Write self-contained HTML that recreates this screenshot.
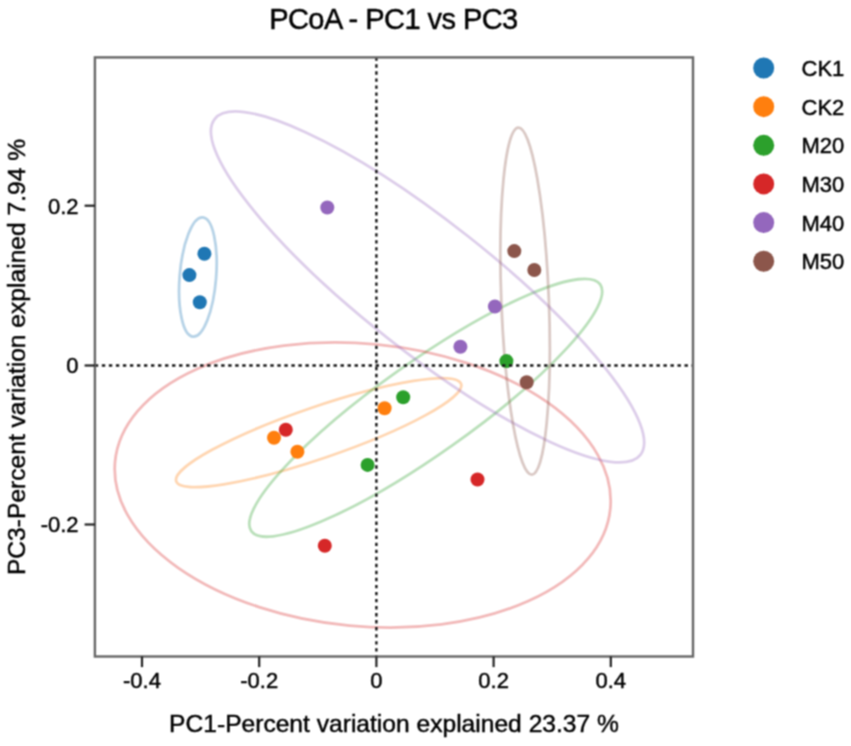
<!DOCTYPE html>
<html><head><meta charset="utf-8"><style>
html,body{margin:0;padding:0;background:#fff;width:851px;height:746px;overflow:hidden}
svg{display:block}
text{font-family:"Liberation Sans",sans-serif;fill:#000;stroke:#000;stroke-width:0.45px}
.tk{font-size:22px}
.ti{font-size:29px;letter-spacing:-0.55px}
.ax{font-size:24.6px}
.lg{font-size:22px}
</style></head><body>
<svg width="851" height="746" viewBox="0 0 851 746">
<defs><filter id="soft" x="0" y="0" width="851" height="746" filterUnits="userSpaceOnUse" color-interpolation-filters="sRGB"><feConvolveMatrix order="3" kernelMatrix="1 2 1 2 4 2 1 2 1" divisor="16" edgeMode="duplicate"/></filter></defs>
<g filter="url(#soft)"><rect x="0" y="0" width="851" height="746" fill="#fff"/>
<ellipse cx="197.87" cy="277.03" rx="59.80" ry="18.24" transform="rotate(94.636 197.87 277.03)" fill="none" stroke="#1f77b4" stroke-opacity="0.32" stroke-width="2.8"/>
<ellipse cx="318.67" cy="432.60" rx="150.53" ry="25.75" transform="rotate(161.109 318.67 432.60)" fill="none" stroke="#ff7f0e" stroke-opacity="0.32" stroke-width="2.8"/>
<ellipse cx="425.73" cy="407.77" rx="213.65" ry="46.04" transform="rotate(144.734 425.73 407.77)" fill="none" stroke="#2ca02c" stroke-opacity="0.32" stroke-width="2.8"/>
<ellipse cx="362.70" cy="485.00" rx="248.74" ry="141.24" transform="rotate(-174.576 362.70 485.00)" fill="none" stroke="#d62728" stroke-opacity="0.32" stroke-width="2.8"/>
<ellipse cx="427.53" cy="286.93" rx="271.11" ry="64.88" transform="rotate(-141.736 427.53 286.93)" fill="none" stroke="#9467bd" stroke-opacity="0.32" stroke-width="2.8"/>
<ellipse cx="525.10" cy="301.10" rx="173.59" ry="23.79" transform="rotate(87.771 525.10 301.10)" fill="none" stroke="#8c564b" stroke-opacity="0.32" stroke-width="2.8"/>
<circle cx="204.4" cy="253.7" r="7.0" fill="#1f77b4"/>
<circle cx="189.4" cy="275.1" r="7.0" fill="#1f77b4"/>
<circle cx="199.8" cy="302.3" r="7.0" fill="#1f77b4"/>
<circle cx="274.0" cy="437.8" r="7.0" fill="#ff7f0e"/>
<circle cx="297.4" cy="451.8" r="7.0" fill="#ff7f0e"/>
<circle cx="384.6" cy="408.2" r="7.0" fill="#ff7f0e"/>
<circle cx="367.6" cy="464.9" r="7.0" fill="#2ca02c"/>
<circle cx="403.2" cy="397.3" r="7.0" fill="#2ca02c"/>
<circle cx="506.4" cy="361.1" r="7.0" fill="#2ca02c"/>
<circle cx="285.8" cy="429.7" r="7.0" fill="#d62728"/>
<circle cx="477.5" cy="479.5" r="7.0" fill="#d62728"/>
<circle cx="324.8" cy="545.8" r="7.0" fill="#d62728"/>
<circle cx="327.3" cy="207.5" r="7.0" fill="#9467bd"/>
<circle cx="460.4" cy="346.8" r="7.0" fill="#9467bd"/>
<circle cx="494.9" cy="306.5" r="7.0" fill="#9467bd"/>
<circle cx="514.3" cy="251.1" r="7.0" fill="#8c564b"/>
<circle cx="534.3" cy="270.0" r="7.0" fill="#8c564b"/>
<circle cx="526.7" cy="382.2" r="7.0" fill="#8c564b"/>
<line x1="94.82" y1="365.5" x2="693.0" y2="365.5" stroke="#181818" stroke-width="2.4" stroke-dasharray="3.4 3.62"/>
<line x1="376.4" y1="57.27" x2="376.4" y2="656.5" stroke="#181818" stroke-width="2.4" stroke-dasharray="3.4 3.635"/>
<rect x="94.9" y="57.4" width="598.10" height="599.10" fill="none" stroke="#666" stroke-width="2.4"/>
<line x1="142.00" y1="656.5" x2="142.00" y2="667.1" stroke="#222" stroke-width="2.2"/>
<text x="142.00" y="688" text-anchor="middle" class="tk">-0.4</text>
<line x1="259.20" y1="656.5" x2="259.20" y2="667.1" stroke="#222" stroke-width="2.2"/>
<text x="259.20" y="688" text-anchor="middle" class="tk">-0.2</text>
<line x1="376.40" y1="656.5" x2="376.40" y2="667.1" stroke="#222" stroke-width="2.2"/>
<text x="376.40" y="688" text-anchor="middle" class="tk">0</text>
<line x1="493.60" y1="656.5" x2="493.60" y2="667.1" stroke="#222" stroke-width="2.2"/>
<text x="493.60" y="688" text-anchor="middle" class="tk">0.2</text>
<line x1="610.80" y1="656.5" x2="610.80" y2="667.1" stroke="#222" stroke-width="2.2"/>
<text x="610.80" y="688" text-anchor="middle" class="tk">0.4</text>
<line x1="84.60000000000001" y1="205.70" x2="94.9" y2="205.70" stroke="#222" stroke-width="2.2"/>
<text x="78.6" y="213.50" text-anchor="end" class="tk">0.2</text>
<line x1="84.60000000000001" y1="365.50" x2="94.9" y2="365.50" stroke="#222" stroke-width="2.2"/>
<text x="78.6" y="373.40" text-anchor="end" class="tk">0</text>
<line x1="84.60000000000001" y1="524.50" x2="94.9" y2="524.50" stroke="#222" stroke-width="2.2"/>
<text x="78.6" y="531.80" text-anchor="end" class="tk">-0.2</text>
<text x="393.4" y="29" text-anchor="middle" class="ti">PCoA - PC1 vs PC3</text>
<text x="394" y="731.5" text-anchor="middle" class="ax">PC1-Percent variation explained 23.37 %</text>
<text transform="translate(24.8 357) rotate(-90)" x="0" y="0" text-anchor="middle" class="ax">PC3-Percent variation explained 7.94 %</text>
<circle cx="763.7" cy="68.00" r="10.5" fill="#1f77b4"/>
<text x="801.5" y="76.00" class="lg">CK1</text>
<circle cx="763.7" cy="106.65" r="10.5" fill="#ff7f0e"/>
<text x="801.5" y="114.65" class="lg">CK2</text>
<circle cx="763.7" cy="145.30" r="10.5" fill="#2ca02c"/>
<text x="801.5" y="153.30" class="lg">M20</text>
<circle cx="763.7" cy="183.95" r="10.5" fill="#d62728"/>
<text x="801.5" y="191.95" class="lg">M30</text>
<circle cx="763.7" cy="222.60" r="10.5" fill="#9467bd"/>
<text x="801.5" y="230.60" class="lg">M40</text>
<circle cx="763.7" cy="261.25" r="10.5" fill="#8c564b"/>
<text x="801.5" y="269.25" class="lg">M50</text>
</g>
</svg></body></html>
